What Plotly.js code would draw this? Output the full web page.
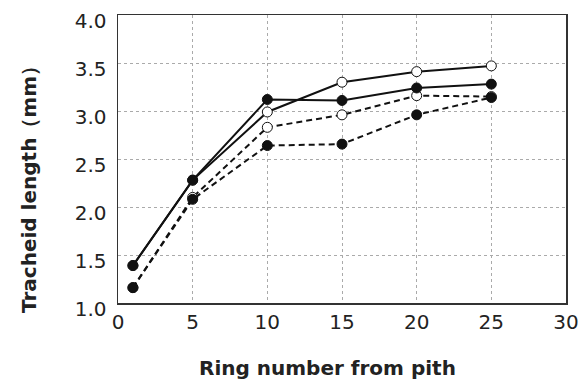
<!DOCTYPE html>
<html><head><meta charset="utf-8">
<script src="https://cdn.plot.ly/plotly-3.0.1.min.js"></script>
<style>html,body{margin:0;padding:0;background:#fff}#chart{width:588px;height:380px}</style>
</head><body><div id="chart"></div>
<script>
const rings = [1, 5, 10, 15, 20, 25];
const solidFilled = [1.39, 2.28, 3.12, 3.11, 3.24, 3.28];
const solidOpen   = [1.39, 2.28, 2.99, 3.30, 3.41, 3.47];
const dashOpen    = [1.16, 2.10, 2.83, 2.96, 3.16, 3.15];
const dashFilled  = [1.16, 2.08, 2.64, 2.655, 2.96, 3.14];
const xTicks = [0, 5, 10, 15, 20, 25, 30];
const yTicks = [1.0, 1.5, 2.0, 2.5, 3.0, 3.5, 4.0];
const xTitle = 'Ring number from pith';
const yTitle = 'Tracheid length';
const yUnit = '（mm）';

function tr(y, dash, filled) {
  return {
    x: rings, y: y, type: 'scatter', mode: 'lines+markers',
    line: {color: '#111', width: 2, dash: dash},
    marker: {size: 10, color: filled ? '#111' : '#fff', line: {color: '#111', width: 1}},
    cliponaxis: false, showlegend: false
  };
}
const data = [
  tr(dashOpen, '6px,4px', false),
  tr(dashFilled, '6px,4px', true),
  tr(solidOpen, 'solid', false),
  tr(solidFilled, 'solid', true)
];
const axFont = {family: 'DejaVu Sans, Verdana, sans-serif', size: 20, color: '#222'};
const layout = {
  width: 588, height: 380,
  margin: {l: 118, r: 22, t: 15, b: 77},
  paper_bgcolor: '#fff', plot_bgcolor: '#fff',
  xaxis: {
    range: [0, 30], tickvals: xTicks, ticktext: xTicks.map(String),
    showgrid: true, gridcolor: '#aaa', griddash: 'dot', gridwidth: 1,
    zeroline: false, showline: true, linecolor: '#333', linewidth: 1.5, mirror: true,
    ticks: '', tickfont: axFont, ticklabelstandoff: 0
  },
  yaxis: {
    range: [1, 4], tickvals: yTicks, ticktext: yTicks.map(v => v.toFixed(1)),
    showgrid: true, gridcolor: '#aaa', griddash: 'dot', gridwidth: 1,
    zeroline: false, showline: true, linecolor: '#333', linewidth: 1.5, mirror: true,
    ticks: '', tickfont: axFont, ticklabelstandoff: 6, ticklabelshift: 6
  },
  annotations: [
    {text: '<b>' + xTitle + '</b>', xref: 'paper', yref: 'paper', x: (327-118)/448, y: -(368-303)/288,
     showarrow: false, xanchor: 'center', yanchor: 'middle',
     font: {family: 'DejaVu Sans, Verdana, sans-serif', size: 20, color: '#222'}},
    {text: '<b>' + yTitle + yUnit + '</b>', xref: 'paper', yref: 'paper', x: -(118-29)/448, y: (303-185)/288,
     showarrow: false, xanchor: 'center', yanchor: 'middle', textangle: -90,
     font: {family: 'DejaVu Sans, Verdana, sans-serif', size: 20, color: '#222'}}
  ]
};
Plotly.newPlot('chart', data, layout, {displayModeBar: false, staticPlot: true});
</script></body></html>
